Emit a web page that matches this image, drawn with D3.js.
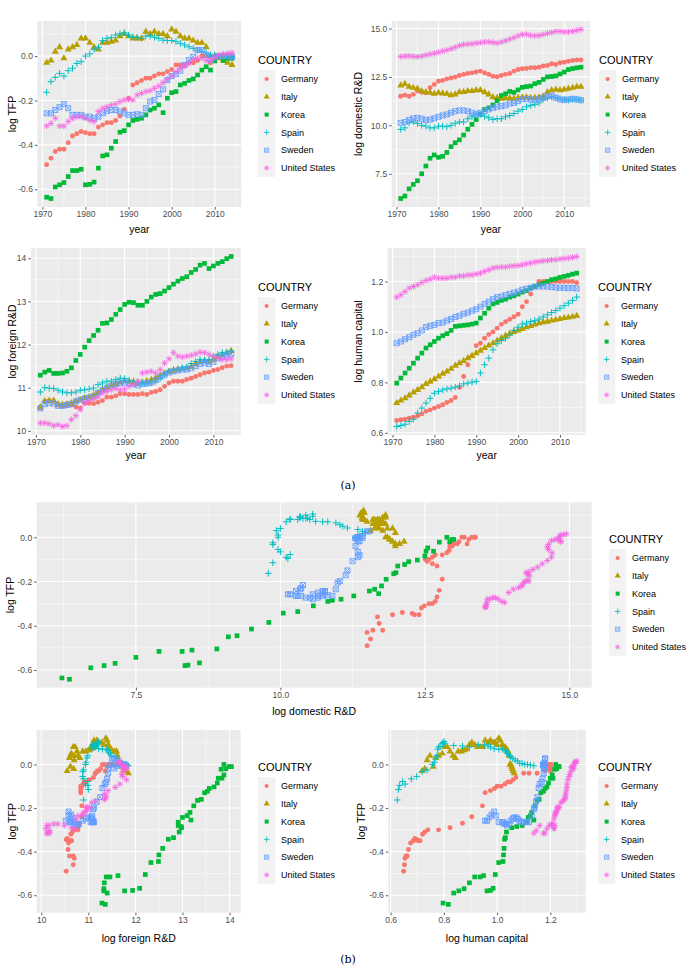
<!DOCTYPE html>
<html>
<head>
<meta charset="utf-8">
<script src="https://cdn.jsdelivr.net/npm/d3@7"></script>
<style>
body { margin: 0; background: #fff; }
svg text { font-family: "Liberation Sans", Arial, sans-serif; }
</style>
</head>
<body>
<div id="chart"></div>
<script>
// years 1971-2014
var years = d3.range(1971, 2015);
var countries = ["Germany", "Italy", "Korea", "Spain", "Sweden", "United States"];
var colors = ["#F8766D", "#B79F00", "#00BA38", "#00BFC4", "#619CFF", "#F564E3"];
var shapes = ["circle", "triangle", "square", "plus", "squarecross", "asterisk"];

var yearTicks = [1970, 1980, 1990, 2000, 2010];
var tfpTicks = [-0.6, -0.4, -0.2, 0.0];
var drdTicks = [7.5, 10, 12.5, 15];
var frdTicks = [10, 11, 12, 13, 14];
var hcTicks = [0.6, 0.8, 1.0, 1.2];

// log TFP
var tfpGermany = [-0.49,-0.46,-0.43,-0.42,-0.42,-0.39,-0.36,-0.35,-0.34,-0.345,-0.35,-0.35,-0.32,-0.31,-0.30,-0.30,-0.29,-0.27,-0.24,-0.19,-0.13,-0.12,-0.11,-0.10,-0.10,-0.09,-0.08,-0.08,-0.07,-0.06,-0.04,-0.04,-0.04,-0.03,-0.03,-0.02,0.00,0.00,-0.03,-0.01,0.00,0.00,0.00,0.00];
var tfpItaly = [-0.03,-0.02,0.02,0.04,-0.01,0.03,0.04,0.05,0.08,0.08,0.06,0.04,0.03,0.06,0.06,0.065,0.07,0.09,0.10,0.09,0.08,0.08,0.08,0.11,0.10,0.11,0.10,0.10,0.09,0.12,0.11,0.09,0.08,0.08,0.07,0.06,0.06,0.04,0.00,0.00,-0.01,-0.02,-0.03,-0.04];
var tfpKorea = [-0.636,-0.642,-0.59,-0.58,-0.57,-0.543,-0.516,-0.516,-0.51,-0.58,-0.578,-0.568,-0.505,-0.45,-0.445,-0.415,-0.385,-0.343,-0.336,-0.31,-0.29,-0.285,-0.28,-0.265,-0.243,-0.235,-0.22,-0.255,-0.19,-0.165,-0.16,-0.13,-0.123,-0.11,-0.103,-0.085,-0.063,-0.048,-0.063,-0.022,0.0,-0.02,-0.01,-0.01];
var tfpSpain = [-0.163,-0.115,-0.096,-0.078,-0.09,-0.066,-0.055,-0.033,-0.025,0.0,0.01,0.03,0.04,0.07,0.08,0.083,0.095,0.10,0.105,0.095,0.087,0.085,0.08,0.09,0.09,0.085,0.08,0.072,0.07,0.07,0.065,0.057,0.05,0.042,0.035,0.027,0.02,0.015,0.005,0.005,0.0,0.0,-0.003,-0.006];
var tfpSweden = [-0.258,-0.258,-0.243,-0.23,-0.216,-0.235,-0.265,-0.265,-0.265,-0.273,-0.273,-0.28,-0.273,-0.258,-0.248,-0.243,-0.243,-0.25,-0.258,-0.265,-0.265,-0.262,-0.265,-0.235,-0.205,-0.198,-0.171,-0.15,-0.108,-0.09,-0.081,-0.066,-0.04,-0.018,-0.003,0.027,0.027,0.005,-0.018,-0.006,0.0,0.0,0.0,-0.003];
var tfpUS = [-0.315,-0.303,-0.28,-0.315,-0.315,-0.295,-0.28,-0.273,-0.273,-0.28,-0.29,-0.295,-0.25,-0.235,-0.228,-0.22,-0.216,-0.205,-0.198,-0.195,-0.198,-0.175,-0.168,-0.16,-0.156,-0.145,-0.135,-0.12,-0.105,-0.09,-0.07,-0.055,-0.045,-0.033,-0.015,-0.01,-0.01,-0.02,-0.018,-0.006,0.005,0.01,0.012,0.015];

// log domestic R&D
var drdGermany = [11.5,11.56,11.5,11.6,11.77,11.71,11.68,11.94,12.11,12.28,12.32,12.4,12.44,12.49,12.57,12.63,12.68,12.71,12.75,12.8,12.71,12.63,12.54,12.51,12.57,12.63,12.68,12.8,12.88,12.92,12.93,12.97,12.97,13.0,13.06,13.09,13.18,13.14,13.23,13.26,13.31,13.35,13.37,13.37];
var drdItaly = [12.06,12.14,11.99,11.94,11.89,11.77,11.71,11.68,11.63,11.68,11.65,11.63,11.56,11.6,11.71,11.73,11.77,11.77,11.82,11.82,11.71,11.6,11.45,11.42,11.38,11.4,11.4,11.38,11.42,11.44,11.45,11.42,11.42,11.45,11.5,11.71,11.82,11.85,11.82,11.85,11.89,11.94,11.99,11.99];
var drdKorea = [6.22,6.35,6.72,6.95,7.14,7.5,7.9,8.3,8.47,8.35,8.4,8.6,8.9,9.1,9.25,9.5,9.8,10.05,10.3,10.57,10.82,10.9,11.05,11.27,11.54,11.63,11.75,11.7,11.83,11.96,12.0,12.03,12.15,12.22,12.37,12.5,12.52,12.55,12.65,12.75,12.88,12.93,12.97,13.0];
var drdSpain = [9.79,9.87,10.13,10.17,10.1,10.0,9.96,9.87,9.87,9.96,9.96,9.93,10.0,10.1,10.17,10.17,10.34,10.44,10.56,10.56,10.47,10.39,10.3,10.34,10.34,10.44,10.51,10.61,10.73,10.82,10.96,11.03,11.08,11.16,11.34,11.42,11.47,11.42,11.37,11.34,11.3,11.34,11.34,11.3];
var drdSweden = [10.13,10.17,10.27,10.36,10.39,10.34,10.27,10.3,10.36,10.44,10.51,10.56,10.65,10.73,10.77,10.77,10.73,10.65,10.56,10.65,10.73,10.82,10.9,10.96,10.99,11.03,11.13,11.16,11.25,11.34,11.37,11.34,11.3,11.37,11.42,11.5,11.54,11.42,11.34,11.3,11.34,11.37,11.34,11.3];
var drdUS = [13.55,13.57,13.58,13.56,13.54,13.57,13.62,13.67,13.72,13.77,13.83,13.88,13.95,14.03,14.12,14.17,14.19,14.21,14.24,14.27,14.3,14.31,14.28,14.25,14.3,14.37,14.45,14.53,14.62,14.69,14.7,14.64,14.62,14.64,14.69,14.75,14.8,14.85,14.85,14.82,14.83,14.85,14.9,14.95];

// log foreign R&D
var frdGermany = [10.53,10.68,10.7,10.68,10.6,10.57,10.58,10.6,10.55,10.53,10.64,10.64,10.63,10.66,10.7,10.78,10.78,10.81,10.86,10.86,10.84,10.84,10.84,10.86,10.84,10.89,10.91,10.95,11.03,11.11,11.15,11.15,11.15,11.19,11.22,11.26,11.3,11.34,11.36,11.4,11.42,11.46,11.5,11.51];
var frdItaly = [10.55,10.69,10.7,10.7,10.62,10.6,10.62,10.64,10.68,10.72,10.76,10.78,10.82,10.88,10.95,11.0,11.05,11.08,11.12,11.15,11.14,11.12,11.1,11.12,11.15,11.18,11.22,11.28,11.33,11.37,11.4,11.42,11.44,11.45,11.48,11.55,11.6,11.62,11.6,11.65,11.72,11.76,11.8,11.85];
var frdKorea = [11.29,11.36,11.4,11.33,11.33,11.34,11.38,11.46,11.63,11.77,11.94,12.09,12.21,12.33,12.49,12.5,12.58,12.7,12.81,12.93,12.98,12.97,12.91,12.91,13.0,13.1,13.16,13.18,13.24,13.32,13.4,13.47,13.53,13.57,13.67,13.74,13.84,13.88,13.76,13.82,13.88,13.92,13.99,14.04];
var frdSpain = [10.9,11.0,10.99,10.98,10.94,10.9,10.88,10.88,10.9,10.94,10.95,10.97,10.99,11.07,11.11,11.15,11.15,11.19,11.22,11.21,11.17,11.15,11.12,11.11,11.09,11.11,11.15,11.22,11.3,11.38,11.42,11.43,11.46,11.48,11.56,11.61,11.65,11.64,11.65,11.73,11.77,11.81,11.82,11.85];
var frdSweden = [10.52,10.62,10.65,10.63,10.58,10.58,10.6,10.62,10.68,10.72,10.75,10.77,10.8,10.88,10.95,11.0,11.05,11.08,11.1,11.12,11.1,11.08,11.05,11.08,11.1,11.12,11.18,11.25,11.3,11.35,11.38,11.4,11.42,11.42,11.45,11.5,11.55,11.58,11.55,11.6,11.68,11.72,11.75,11.78];
var frdUS = [10.18,10.18,10.16,10.12,10.14,10.1,10.12,10.26,10.35,10.49,10.64,10.7,10.74,10.78,10.88,10.91,10.95,10.98,10.95,10.97,11.03,11.07,11.15,11.34,11.36,11.38,11.34,11.42,11.57,11.67,11.81,11.73,11.71,11.73,11.75,11.78,11.82,11.81,11.77,11.73,11.69,11.65,11.65,11.67];

// log human capital
var hcGermany = [0.649,0.652,0.654,0.658,0.662,0.667,0.675,0.685,0.691,0.698,0.704,0.711,0.72,0.728,0.74,0.78,0.823,0.87,0.905,0.945,0.955,0.975,0.99,1.0,1.015,1.03,1.04,1.05,1.06,1.07,1.1,1.12,1.15,1.18,1.2,1.2,1.2,1.2,1.2,1.2,1.2,1.2,1.2,1.195];
var hcItaly = [0.718,0.728,0.737,0.748,0.76,0.77,0.781,0.794,0.803,0.813,0.823,0.834,0.843,0.854,0.866,0.876,0.885,0.896,0.905,0.916,0.926,0.936,0.946,0.955,0.966,0.975,0.985,0.993,1.0,1.006,1.012,1.019,1.024,1.03,1.035,1.039,1.041,1.045,1.048,1.051,1.055,1.057,1.06,1.064];
var hcKorea = [0.797,0.817,0.837,0.856,0.876,0.896,0.916,0.936,0.949,0.962,0.975,0.985,0.993,1.006,1.022,1.024,1.026,1.028,1.031,1.035,1.055,1.074,1.094,1.111,1.117,1.125,1.13,1.138,1.143,1.15,1.158,1.164,1.174,1.18,1.187,1.193,1.2,1.207,1.21,1.216,1.22,1.224,1.229,1.233];
var hcSpain = [0.625,0.629,0.634,0.645,0.654,0.678,0.698,0.718,0.737,0.757,0.764,0.77,0.774,0.777,0.781,0.786,0.794,0.797,0.801,0.804,0.837,0.87,0.896,0.929,0.953,0.966,0.975,0.989,1.006,1.019,1.031,1.035,1.041,1.045,1.051,1.059,1.068,1.077,1.085,1.094,1.104,1.114,1.125,1.138];
var hcSweden = [0.955,0.962,0.971,0.979,0.989,0.995,1.006,1.019,1.024,1.028,1.035,1.037,1.045,1.051,1.059,1.064,1.072,1.077,1.084,1.09,1.1,1.111,1.12,1.13,1.138,1.14,1.146,1.151,1.156,1.16,1.167,1.171,1.175,1.18,1.18,1.18,1.18,1.178,1.176,1.175,1.175,1.174,1.174,1.172];
var hcUS = [1.138,1.147,1.16,1.174,1.18,1.187,1.196,1.204,1.209,1.217,1.213,1.213,1.213,1.217,1.217,1.222,1.222,1.226,1.226,1.23,1.233,1.24,1.246,1.253,1.256,1.257,1.257,1.26,1.262,1.263,1.266,1.27,1.273,1.277,1.279,1.282,1.283,1.286,1.286,1.289,1.291,1.293,1.295,1.299];

var tfpAll = [tfpGermany, tfpItaly, tfpKorea, tfpSpain, tfpSweden, tfpUS];
var drdAll = [drdGermany, drdItaly, drdKorea, drdSpain, drdSweden, drdUS];
var frdAll = [frdGermany, frdItaly, frdKorea, frdSpain, frdSweden, frdUS];
var hcAll = [hcGermany, hcItaly, hcKorea, hcSpain, hcSweden, hcUS];

var rows = [];
countries.forEach(function(c, i) {
    years.forEach(function(yr, j) {
        rows.push({country: c, ci: i, year: yr, tfp: tfpAll[i][j], drd: drdAll[i][j], frd: frdAll[i][j], hc: hcAll[i][j]});
    });
});

var svgWidth = 697;
var svgHeight = 966;

var svg = d3.select("#chart")
    .append("svg")
        .attr("width", svgWidth)
        .attr("height", svgHeight);

function shapePath(s) {
    if (s === "circle") return d3.symbol(d3.symbolCircle, 19)();
    if (s === "triangle") return d3.symbol(d3.symbolTriangle, 22)();
    if (s === "square") return d3.symbol(d3.symbolSquare, 22)();
    if (s === "plus") return "M-3.3,0H3.3M0,-3.3V3.3";
    if (s === "squarecross") return "M-2.5,-2.5H2.5V2.5H-2.5ZM-2.5,-2.5L2.5,2.5M-2.5,2.5L2.5,-2.5";
    return "M-3.1,0H3.1M0,-3.1V3.1M-2.3,-2.3L2.3,2.3M-2.3,2.3L2.3,-2.3";
}

function styleShape(sel, i) {
    var filled = shapes[i] === "circle" || shapes[i] === "triangle" || shapes[i] === "square";
    sel.attr("d", shapePath(shapes[i]))
        .attr("fill", filled ? colors[i] : "none")
        .attr("stroke", filled ? "none" : colors[i])
        .attr("stroke-width", shapes[i] === "plus" ? 1 : 0.85);
}

// ggplot-style 5% expansion
function expanded(key) {
    var ext = d3.extent(rows, d => d[key]);
    var pad = (ext[1] - ext[0]) * 0.05;
    return [ext[0] - pad, ext[1] + pad];
}

function minorTicks(ticks, domain) {
    var step = ticks[1] - ticks[0];
    var out = [];
    for (var v = ticks[0] - step / 2; v <= domain[1]; v += step) {
        if (v >= domain[0]) out.push(v);
    }
    return out;
}

function drawPanel(cfg) {
    var g = svg.append("g");
    var xDom = expanded(cfg.xKey);
    var yDom = expanded(cfg.yKey);
    var x = d3.scaleLinear().domain(xDom).range([cfg.left, cfg.right]);
    var y = d3.scaleLinear().domain(yDom).range([cfg.bottom, cfg.top]);

    g.append("rect")
        .attr("x", cfg.left).attr("y", cfg.top)
        .attr("width", cfg.right - cfg.left).attr("height", cfg.bottom - cfg.top)
        .attr("fill", "#EBEBEB");

    g.selectAll(".xminor").data(minorTicks(cfg.xTicks, xDom)).enter().append("line")
        .attr("x1", d => x(d)).attr("x2", d => x(d))
        .attr("y1", cfg.top).attr("y2", cfg.bottom)
        .attr("stroke", "#fff").attr("stroke-width", 0.5);
    g.selectAll(".yminor").data(minorTicks(cfg.yTicks, yDom)).enter().append("line")
        .attr("y1", d => y(d)).attr("y2", d => y(d))
        .attr("x1", cfg.left).attr("x2", cfg.right)
        .attr("stroke", "#fff").attr("stroke-width", 0.5);
    g.selectAll(".xmajor").data(cfg.xTicks).enter().append("line")
        .attr("x1", d => x(d)).attr("x2", d => x(d))
        .attr("y1", cfg.top).attr("y2", cfg.bottom)
        .attr("stroke", "#fff").attr("stroke-width", 1.1);
    g.selectAll(".ymajor").data(cfg.yTicks).enter().append("line")
        .attr("y1", d => y(d)).attr("y2", d => y(d))
        .attr("x1", cfg.left).attr("x2", cfg.right)
        .attr("stroke", "#fff").attr("stroke-width", 1.1);

    countries.forEach(function(c, i) {
        g.append("g").selectAll("path")
            .data(rows.filter(d => d.ci === i))
            .enter().append("path")
                .attr("transform", d => `translate(${x(d[cfg.xKey])},${y(d[cfg.yKey])})`)
                .call(styleShape, i);
    });

    var xAxis = g.append("g")
        .attr("transform", `translate(0,${cfg.bottom})`)
        .call(d3.axisBottom(x).tickValues(cfg.xTicks).tickFormat(cfg.xFmt).tickSizeOuter(0).tickSize(2.5).tickPadding(1.5));
    var yAxis = g.append("g")
        .attr("transform", `translate(${cfg.left},0)`)
        .call(d3.axisLeft(y).tickValues(cfg.yTicks).tickFormat(cfg.yFmt).tickSizeOuter(0).tickSize(2.5).tickPadding(2));
    [xAxis, yAxis].forEach(function(a) {
        a.select(".domain").remove();
        a.selectAll(".tick line").attr("stroke", "#333").attr("stroke-width", 0.8);
        a.selectAll(".tick text").attr("fill", "#4D4D4D").style("font-size", "8.5px")
            .style("font-family", "Liberation Sans, Arial, sans-serif");
    });

    g.append("text")
        .attr("x", (cfg.left + cfg.right) / 2)
        .attr("y", cfg.xTitleY)
        .attr("text-anchor", "middle")
        .style("font-size", "10.5px")
        .text(cfg.xTitle);
    g.append("text")
        .attr("transform", `translate(${cfg.yTitleX},${(cfg.top + cfg.bottom) / 2}) rotate(-90)`)
        .attr("text-anchor", "middle")
        .attr("dy", "0.35em")
        .style("font-size", "10.5px")
        .text(cfg.yTitle);

    // legend
    var lg = g.append("g").attr("transform", `translate(${cfg.legX},${cfg.legY})`);
    lg.append("text")
        .attr("x", 0).attr("y", 4)
        .style("font-size", "11px")
        .text("COUNTRY");
    var items = lg.selectAll(".item").data(countries).enter().append("g")
        .attr("transform", (d, i) => `translate(0,${19 + i * 17.8})`);
    items.append("rect")
        .attr("x", 0).attr("y", -8.9)
        .attr("width", 17.3).attr("height", 17.8)
        .attr("fill", "#F2F2F2");
    items.append("path")
        .attr("transform", "translate(8.65,0) scale(0.85)")
        .each(function(d, i) { d3.select(this).call(styleShape, i); });
    items.append("text")
        .attr("x", 23).attr("y", 0).attr("dy", "0.35em")
        .style("font-size", "9px")
        .text(d => d);
}

var f1 = d => d.toFixed(1);
var f0 = d => d.toFixed(0);
var fy = d => String(d);

drawPanel({xKey: "year", yKey: "tfp", left: 37.4, right: 241.3, top: 21, bottom: 207,
    xTicks: yearTicks, yTicks: tfpTicks, xFmt: fy, yFmt: f1,
    xTitle: "year", xTitleY: 233, yTitle: "log TFP", yTitleX: 12, legX: 258, legY: 60});
drawPanel({xKey: "year", yKey: "drd", left: 391.7, right: 590, top: 21, bottom: 207,
    xTicks: yearTicks, yTicks: drdTicks, xFmt: fy, yFmt: f1,
    xTitle: "year", xTitleY: 233, yTitle: "log domestic R&D", yTitleX: 358, legX: 599, legY: 60});
drawPanel({xKey: "year", yKey: "frd", left: 30.8, right: 240.7, top: 248, bottom: 435,
    xTicks: yearTicks, yTicks: frdTicks, xFmt: fy, yFmt: f0,
    xTitle: "year", xTitleY: 459, yTitle: "log foreign R&D", yTitleX: 12, legX: 258, legY: 287});
drawPanel({xKey: "year", yKey: "hc", left: 387.7, right: 585.7, top: 248, bottom: 435,
    xTicks: yearTicks, yTicks: hcTicks, xFmt: fy, yFmt: f1,
    xTitle: "year", xTitleY: 459, yTitle: "log human capital", yTitleX: 358, legX: 598, legY: 287});
drawPanel({xKey: "drd", yKey: "tfp", left: 36.7, right: 591.7, top: 502.3, bottom: 687.7,
    xTicks: drdTicks, yTicks: tfpTicks, xFmt: f1, yFmt: f1,
    xTitle: "log domestic R&D", xTitleY: 715, yTitle: "log TFP", yTitleX: 10, legX: 609, legY: 539});
drawPanel({xKey: "frd", yKey: "tfp", left: 36.7, right: 240.7, top: 730, bottom: 912.7,
    xTicks: frdTicks, yTicks: tfpTicks, xFmt: f0, yFmt: f1,
    xTitle: "log foreign R&D", xTitleY: 942, yTitle: "log TFP", yTitleX: 12, legX: 258, legY: 767});
drawPanel({xKey: "hc", yKey: "tfp", left: 388.3, right: 585.7, top: 730, bottom: 912.7,
    xTicks: hcTicks, yTicks: tfpTicks, xFmt: f1, yFmt: f1,
    xTitle: "log human capital", xTitleY: 942, yTitle: "log TFP", yTitleX: 361, legX: 598, legY: 767});

svg.append("text")
    .attr("x", 348).attr("y", 489)
    .attr("text-anchor", "middle")
    .style("font-family", "DejaVu Serif, Liberation Serif, serif")
    .style("font-size", "11px")
    .text("(a)");
svg.append("text")
    .attr("x", 348).attr("y", 963)
    .attr("text-anchor", "middle")
    .style("font-family", "DejaVu Serif, Liberation Serif, serif")
    .style("font-size", "11px")
    .text("(b)");
</script>
</body>
</html>
